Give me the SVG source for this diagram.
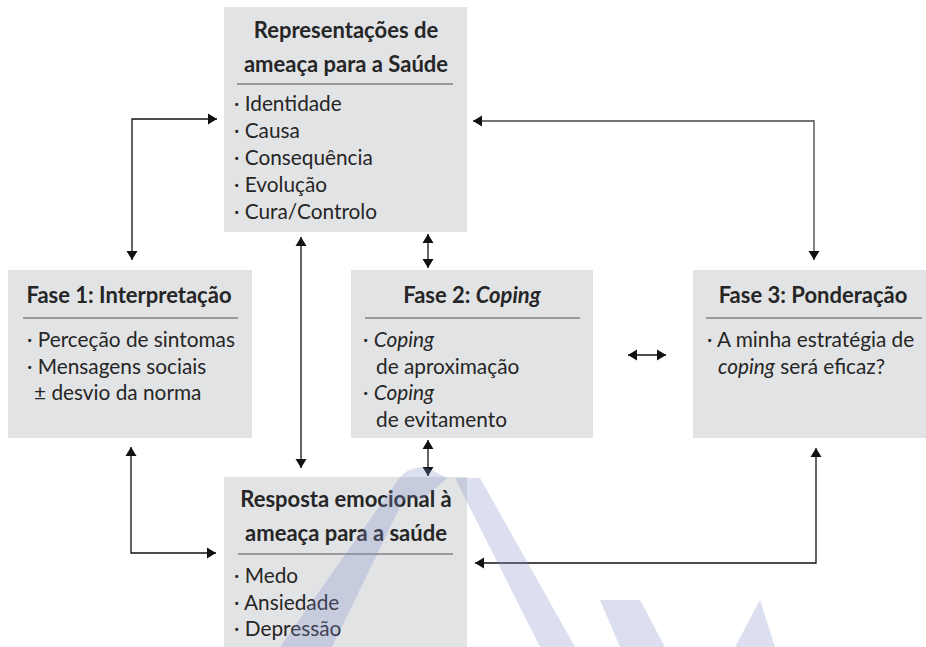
<svg xmlns="http://www.w3.org/2000/svg" width="926" height="647" viewBox="0 0 926 647">
<defs>
<marker id="ah" markerUnits="userSpaceOnUse" markerWidth="12" markerHeight="12" refX="9" refY="5.5" orient="auto-start-reverse" viewBox="0 0 12 11">
<path d="M0,0 L9,5.5 L0,11 z" fill="#111"/>
</marker>
<style>
.box{fill:#e2e3e5}
.t{font-family:Lato,"Open Sans","Liberation Sans",sans-serif;font-size:22px;font-weight:bold;fill:#262626;text-anchor:middle}
.i{font-family:Lato,"Open Sans","Liberation Sans",sans-serif;font-size:20.8px;fill:#262626}
.div{stroke:#555;stroke-width:1.2}
.c{fill:none;stroke:#111;stroke-width:1.3;marker-start:url(#ah);marker-end:url(#ah)}
.wm{fill:#7d8cc8;opacity:0.28}
</style>
</defs>
<rect width="926" height="647" fill="#fff"/>
<g id="connectors">
<path class="c" d="M132,260 L132,119 L217,119"/>
<path class="c" d="M473,121 L814,121 L814,260" style="stroke:#444"/>
<path class="c" d="M428,234 L428,268"/>
<path class="c" d="M301,237 L301,468"/>
<path class="c" d="M428,440 L428,476"/>
<path class="c" d="M628,355 L666,355"/>
<path class="c" d="M131,447 L131,553 L216,553"/>
<path class="c" d="M816,448 L816,563 L475,563"/>
</g>
<g id="node-representacoes">
<rect class="box" x="224" y="7" width="243" height="225"/>
<text class="t" x="346" y="38">Representações de</text>
<text class="t" x="346" y="72">ameaça para a Saúde</text>
<line class="div" x1="237" y1="84" x2="453" y2="84"/>
<text class="i" x="234" y="111">· Identidade</text>
<text class="i" x="234" y="138">· Causa</text>
<text class="i" x="234" y="165">· Consequência</text>
<text class="i" x="234" y="192">· Evolução</text>
<text class="i" x="234" y="219">· Cura/Controlo</text>
</g>
<g id="node-fase1">
<rect class="box" x="8" y="270" width="244" height="168"/>
<text class="t" x="129" y="303">Fase 1: Interpretação</text>
<line class="div" x1="23" y1="318" x2="238" y2="318"/>
<text class="i" x="27" y="347">· Perceção de sintomas</text>
<text class="i" x="27" y="374">· Mensagens sociais</text>
<text class="i" x="34" y="400">± desvio da norma</text>
</g>
<g id="node-fase2">
<rect class="box" x="351" y="270" width="242" height="168"/>
<text class="t" x="472" y="303">Fase 2: <tspan font-style="italic">Coping</tspan></text>
<line class="div" x1="365" y1="318" x2="580" y2="318"/>
<text class="i" x="363" y="347">· <tspan font-style="italic">Coping</tspan></text>
<text class="i" x="376" y="374">de aproximação</text>
<text class="i" x="363" y="400">· <tspan font-style="italic">Coping</tspan></text>
<text class="i" x="376" y="427">de evitamento</text>
</g>
<g id="node-fase3">
<rect class="box" x="693" y="270" width="233" height="168"/>
<text class="t" x="813" y="303">Fase 3: Ponderação</text>
<line class="div" x1="706" y1="318" x2="922" y2="318"/>
<text class="i" x="707" y="347">· A minha estratégia de</text>
<text class="i" x="718" y="374"><tspan font-style="italic">coping</tspan> será eficaz?</text>
</g>
<g id="node-resposta">
<rect class="box" x="224" y="477" width="243" height="170"/>
<text class="t" x="346" y="507">Resposta emocional à</text>
<text class="t" x="346" y="541">ameaça para a saúde</text>
<line class="div" x1="238" y1="554" x2="453" y2="554"/>
<text class="i" x="234" y="583">· Medo</text>
<text class="i" x="234" y="610">· Ansiedade</text>
<text class="i" x="234" y="636">· Depressão</text>
</g>
<g id="watermark">
<path class="wm" d="M280,647 L398,480 Q412,462 432,470 L447,478 L422,500 Q407,492 400,507 L332,647 z"/>
<path class="wm" d="M455,478 L480,478 L575,647 L540,647 z"/>
<path class="wm" d="M600,600 L640,600 L665,647 L620,647 z" opacity="0.5"/>
<path class="wm" d="M735,647 L760,600 L775,647 z"/>
</g>
</svg>
